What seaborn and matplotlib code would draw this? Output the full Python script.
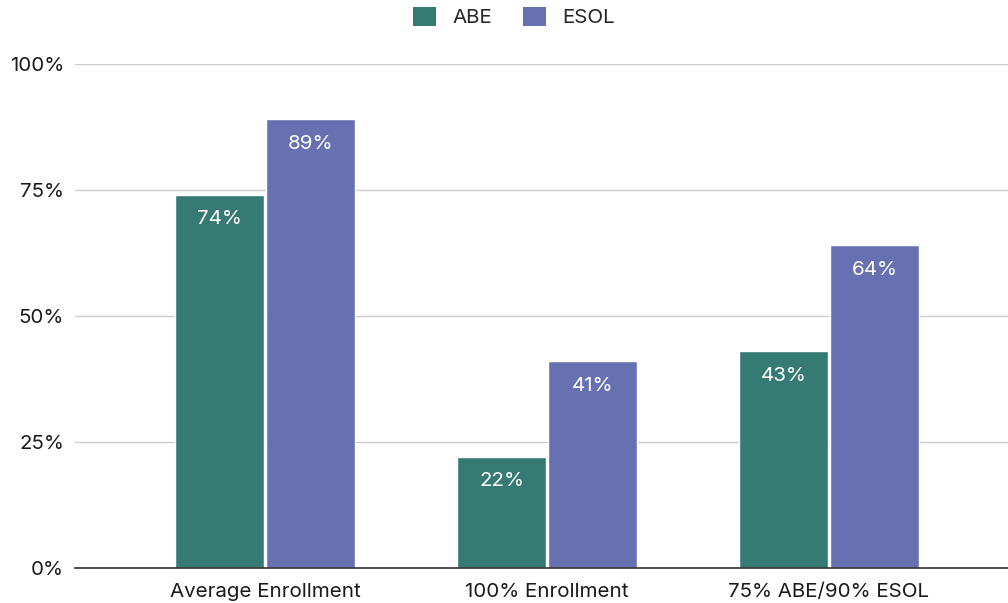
import matplotlib
matplotlib.use("Agg")
import matplotlib.pyplot as plt
import seaborn as sns
import pandas as pd
from matplotlib.patches import Patch

categories = ["Average Enrollment", "100% Enrollment", "75% ABE/90% ESOL"]
abe = [74, 22, 43]
esol = [89, 41, 64]
series = ["ABE", "ESOL"]
colors = ["#367a74", "#6771b1"]
yticks = [0, 25, 50, 75, 100]

df = pd.DataFrame({
    "category": categories * 2,
    "series": ["ABE"] * 3 + ["ESOL"] * 3,
    "value": abe + esol,
})

sns.set_theme(style="white")
plt.rcParams["font.family"] = ["Inter", "DejaVu Sans"]

fs = 14.8
fig = plt.figure(figsize=(10.08, 6.03), dpi=100)
ax = fig.add_axes([75 / 1008, 1 - 568 / 603, 1 - 75 / 1008, (568 - 64) / 603])

sns.barplot(data=df, x="category", y="value", hue="series", order=categories,
            hue_order=series, palette=colors, width=0.645, gap=0.03,
            saturation=1, ax=ax, legend=False)

for cont in ax.containers:
    ax.bar_label(cont, labels=[f"{v:.0f}%" for v in cont.datavalues],
                 padding=-24, color="white", fontsize=fs)

ax.set_ylim(0, 100)
ax.set_xlim(-0.674, 2.635)
ax.set_yticks(yticks)
ax.set_yticklabels([f"{t}%" for t in yticks], fontsize=fs, color="#1a1a1a")
ax.tick_params(axis="x", labelsize=fs, colors="#1a1a1a", length=0, pad=11)
ax.tick_params(axis="y", length=0, pad=8)
ax.set_xlabel("")
ax.set_ylabel("")
ax.yaxis.grid(True, color="#cccccc", linewidth=1)
ax.set_axisbelow(True)
for s in ["top", "right", "left"]:
    ax.spines[s].set_visible(False)
ax.spines["bottom"].set_color("#333333")
ax.spines["bottom"].set_linewidth(1.2)
ax.spines["bottom"].set_zorder(5)

handles = [Patch(facecolor=c, edgecolor="none", label=s) for s, c in zip(series, colors)]
fig.legend(handles=handles, loc="center", bbox_to_anchor=(514 / 1008, 1 - 17 / 603),
           ncol=2, frameon=False, fontsize=fs, handlelength=1.1, handleheight=1.1,
           columnspacing=1.5, handletextpad=0.8)

fig.savefig("out.png", dpi=100)
